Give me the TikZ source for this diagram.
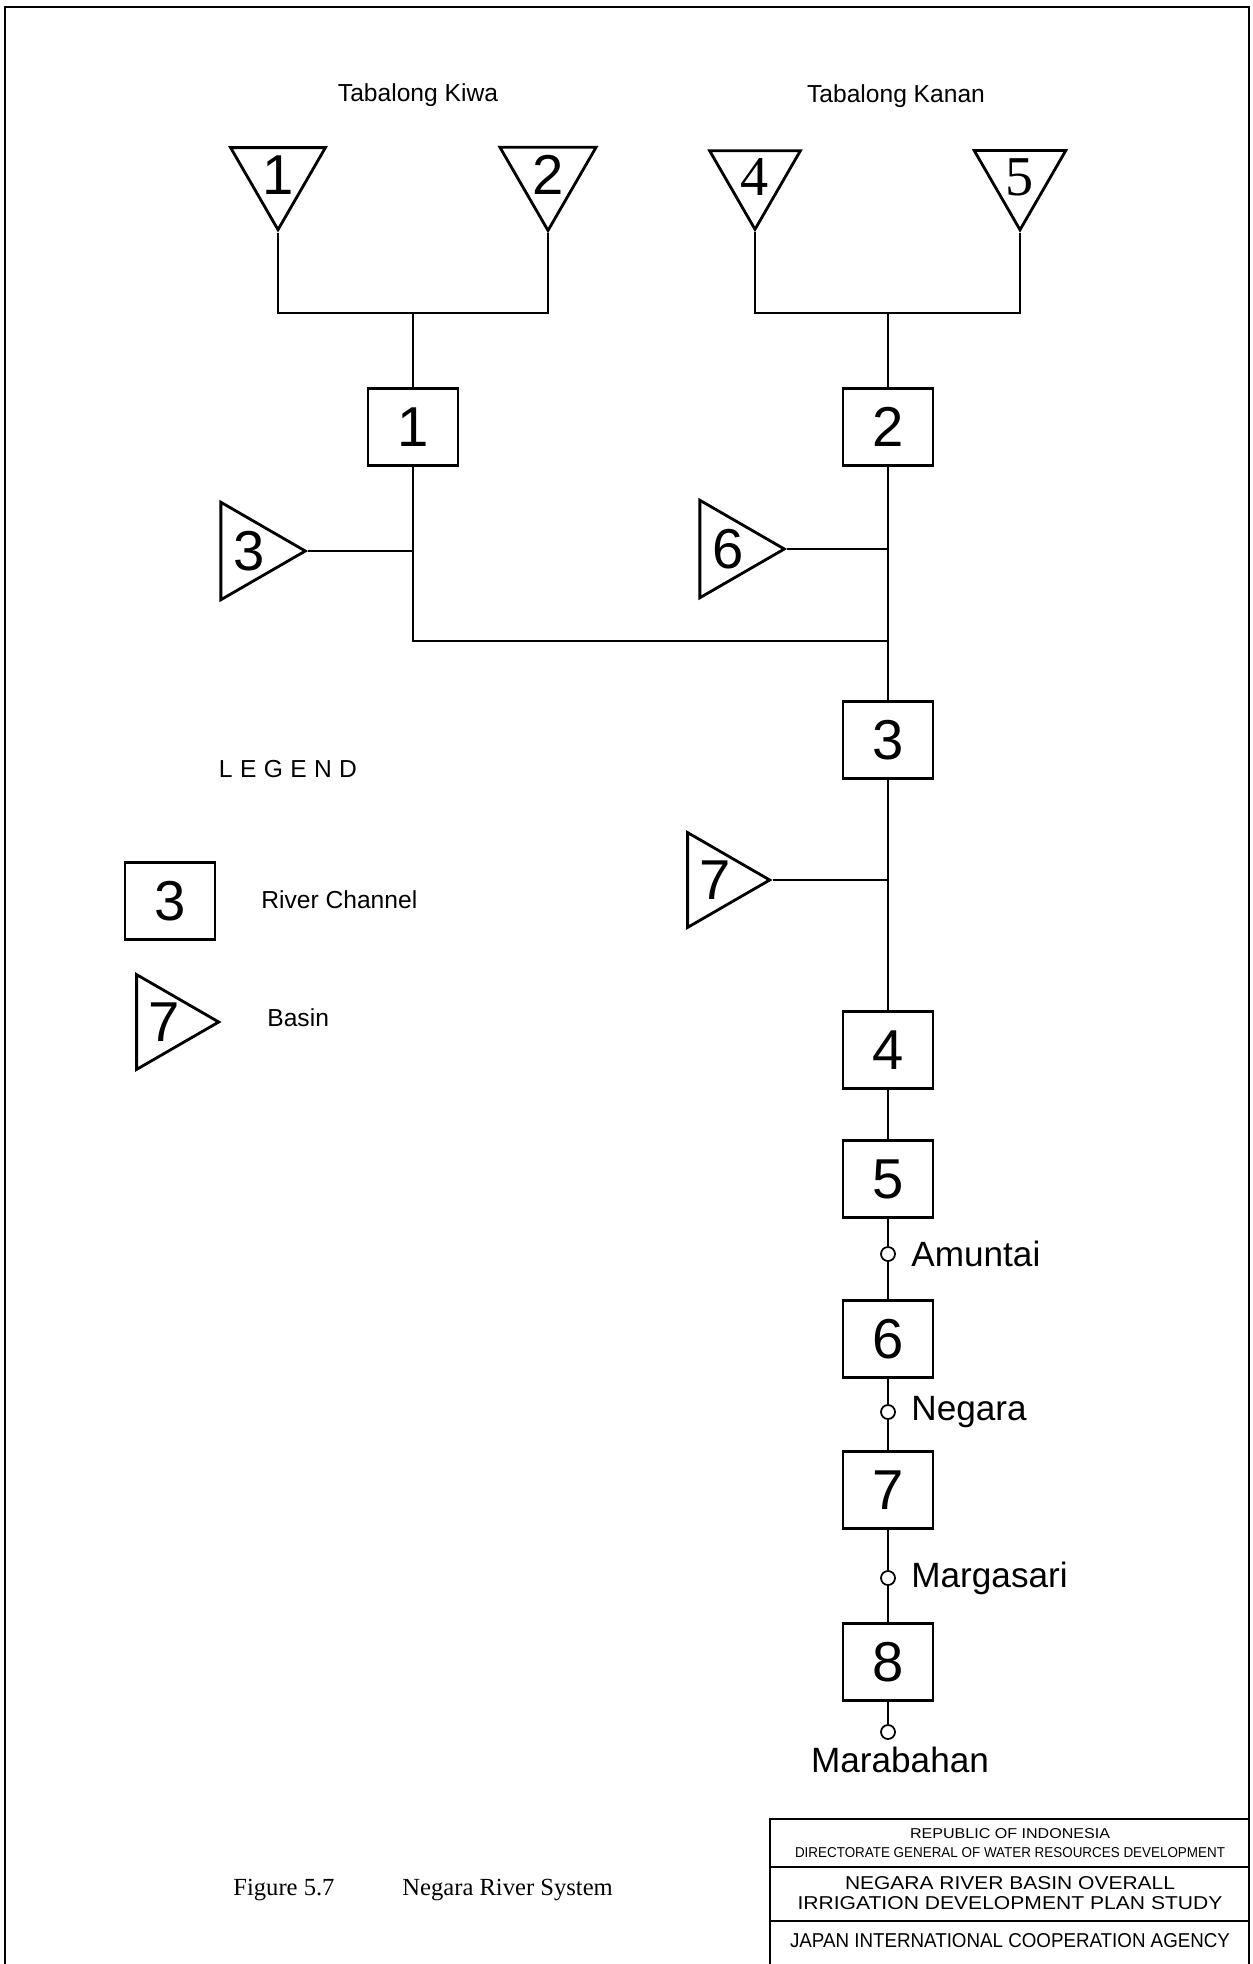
\documentclass[tikz,border=0pt]{standalone}
\usepackage{fontspec}
\setmainfont{Liberation Sans}
\newfontfamily\capfont{Liberation Serif}
\usepackage{graphicx}
\usetikzlibrary{shapes.geometric}
\newcommand{\fs}[1]{\fontsize{#1}{#1}\selectfont}

\begin{document}
\begin{tikzpicture}[x=0.1mm,y=-0.1mm,line width=0.8pt,
  rch/.style={draw,minimum width=9mm,minimum height=7.7mm,inner sep=0pt,font=\fs{16}},
  bsn/.style={draw,regular polygon,regular polygon sides=3,minimum size=10.4mm,inner sep=0pt,font=\fs{16}},
  bdown/.style={bsn,shape border rotate=180},
  bright/.style={bsn,shape border rotate=270},
  stn/.style={draw,fill=white,circle,minimum size=1.4mm,inner sep=0pt,line width=0.5pt},
  stl/.style={anchor=west,inner sep=0pt,font=\fs{10}},
  lbl/.style={inner sep=0pt,font=\fs{7}},
  tbl/.style={inner sep=0pt},
  frm/.style={line width=0.5pt}]

\useasboundingbox (0,0) rectangle (1253,1964);
\draw[frm] (5,1964) -- (5,7) -- (1249,7) -- (1249,1964);

\node[lbl] (kiwa)  at (418,95) {Tabalong Kiwa};
\node[lbl] (kanan) at (896,96) {Tabalong Kanan};

\node[bdown] (t1) at (278,175) {1};
\node[bdown] (t2) at (548,175) {2};
\node[bdown] (t4) at (755,177) {\capfont 4};
\node[bdown] (t5) at (1020,177) {\capfont 5};

\coordinate (j1) at (413,313);
\coordinate (j2) at (888,313);
\coordinate (j3) at (888,641);

\node[rch] (r1) at (413,427) {1};
\node[rch] (r2) at (888,427) {2};
\node[bright] (t3) at (249,551) {3};
\node[bright] (t6) at (728,549) {6};
\node[rch] (r3) at (888,740) {3};
\node[bright] (t7) at (715,880) {7};
\node[rch] (r4) at (888,1050) {4};
\node[rch] (r5) at (888,1179) {5};
\node[stn] (am) at (888,1254) {};
\node[stl] (aml) at (910,1254) {Amuntai};
\node[rch] (r6) at (888,1339) {6};
\node[stn] (ng) at (888,1412) {};
\node[stl] (ngl) at (910,1412) {Negara};
\node[rch] (r7) at (888,1490) {7};
\node[stn] (mg) at (888,1578) {};
\node[stl] (mgl) at (910,1578) {Margasari};
\node[rch] (r8) at (888,1662) {8};
\node[stn] (mb) at (888,1732) {};
\node[font=\fs{10},inner sep=0pt] (mbl) at (900,1760) {Marabahan};

\node[font=\fs{7}] (leg) at (288,769) {\addfontfeature{LetterSpace=30}LEGEND};
\node[rch] (legr) at (170,901) {3};
\node[lbl,anchor=west] (legrl) at (260,900) {River Channel};
\node[bright] (legb) at (164,1022) {7};
\node[lbl,anchor=west] (legbl) at (266,1018) {Basin};

\draw (t1.corner 1) |- (j1) -| (t2.corner 1);
\draw (t4.corner 1) |- (j2) -| (t5.corner 1);
\draw (j1) -- (r1);
\draw (j2) -- (r2);
\draw (r1.south) |- (j3);
\draw (t3.corner 1) -- (t3.corner 1 -| r1);
\draw (t6.corner 1) -- (t6.corner 1 -| r2);
\draw (r2) -- (r3);
\draw (t7.corner 1) -- (t7.corner 1 -| r3);
\draw (r3) -- (r4) -- (r5) -- (am) -- (r6) -- (ng) -- (r7) -- (mg) -- (r8) -- (mb);

\node[anchor=west,inner sep=0pt,font=\capfont\fs{7}] (fig) at (232,1890) {Figure 5.7};
\node[anchor=west,inner sep=0pt,font=\capfont\fs{7}] (cap) at (401,1890) {Negara River System};

\draw[frm] (770,1964) -- (770,1819) -- (1249,1819);
\draw[frm] (770,1867) -- (1249,1867);
\draw[frm] (770,1921) -- (1249,1921);
\node[tbl] (tb1) at (1010,1834) {\resizebox{20mm}{1mm}{REPUBLIC OF INDONESIA}};
\node[tbl] (tb2) at (1010,1853) {\resizebox{43mm}{1mm}{DIRECTORATE GENERAL OF WATER RESOURCES DEVELOPMENT}};
\node[tbl] (tb3) at (1010,1883) {\resizebox{33mm}{1.3mm}{NEGARA RIVER BASIN OVERALL}};
\node[tbl] (tb4) at (1010,1903) {\resizebox{42.5mm}{1.3mm}{IRRIGATION DEVELOPMENT PLAN STUDY}};
\node[tbl] (tb5) at (1010,1941) {\resizebox{44mm}{1.4mm}{JAPAN INTERNATIONAL COOPERATION AGENCY}};
\end{tikzpicture}
\end{document}
